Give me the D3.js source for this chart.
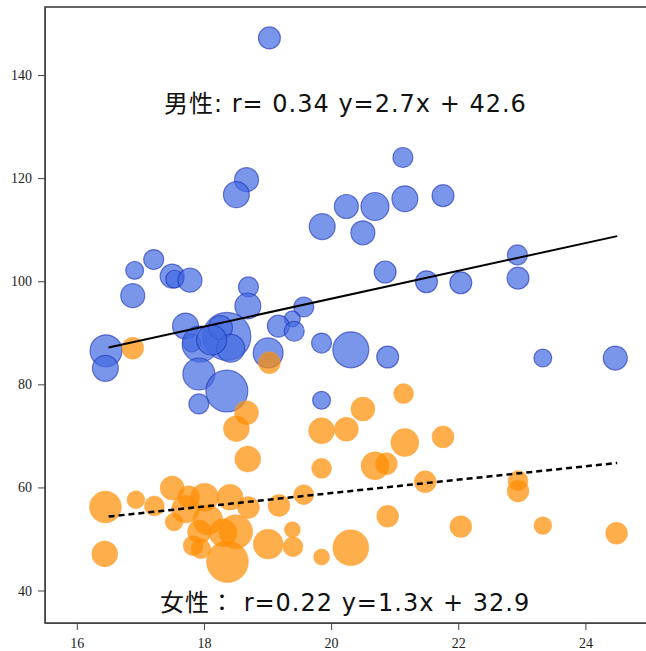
<!DOCTYPE html>
<html lang="ja">
<head>
<meta charset="utf-8">
<script src="https://d3js.org/d3.v7.min.js"></script>
<style>
  body { margin: 0; background: #fff; }
  .axis text { font-family: "Liberation Serif", serif; font-size: 14px; fill: #222; }
  .axis path, .axis line { stroke: #444; }
  .label { font-family: "DejaVu Sans", "Noto Sans CJK JP", sans-serif; font-size: 24px; letter-spacing: 1px; fill: #111; }
</style>
</head>
<body>
<div id="chart"></div>
<script>
// male group: x value, y value, bubble size
const maleX = [19.03, 18.67, 18.51, 19.86, 21.13, 21.16, 21.76, 20.24, 20.69, 20.50,
               20.85, 21.50, 22.04, 22.93, 22.94, 23.33, 24.47, 20.31, 20.89, 19.85,
               19.85, 16.91, 17.21, 16.88, 17.50, 17.54, 17.78, 18.70, 18.69, 19.57,
               19.39, 19.17, 19.42, 16.46, 16.45, 17.71, 17.81, 18.36, 17.94, 18.26,
               18.42, 17.92, 18.36, 17.92, 19.01, 18.12];
const maleY = [147.2, 119.7, 116.8, 110.6, 124.0, 116.0, 116.6, 114.5, 114.5, 109.4,
               101.8, 99.9, 99.7, 105.1, 100.6, 85.1, 85.1, 86.7, 85.3, 88.0,
               76.9, 102.1, 104.2, 97.2, 101.0, 100.4, 100.2, 98.9, 95.2, 95.0,
               92.7, 91.3, 90.3, 86.5, 83.1, 91.3, 88.0, 89.3, 87.8, 91.0,
               87.0, 82.0, 78.7, 76.2, 86.1, 88.6];
const maleS = [30, 36, 42, 42, 25, 42, 30, 36, 49, 36,
               30, 30, 30, 25, 30, 20, 36, 81, 30, 25,
               20, 20, 25, 36, 36, 20, 36, 25, 42, 25,
               16, 30, 25, 64, 42, 42, 20, 144, 81, 36,
               49, 64, 110, 25, 56, 56];

// female group
const femaleX = [16.88, 19.03, 18.67, 18.51, 18.69, 19.85, 20.24, 20.50, 21.14, 21.16,
                 21.76, 19.85, 20.69, 20.87, 21.48, 22.94, 22.94, 20.89, 22.04, 23.33,
                 24.49, 20.31, 19.85, 16.45, 16.44, 16.93, 17.22, 19.18, 19.57, 19.39,
                 19.40, 19.01, 17.50, 17.76, 18.01, 18.41, 18.70, 17.71, 17.53, 18.06,
                 18.30, 18.50, 17.83, 17.95, 18.37, 17.93];
const femaleY = [87.0, 84.2, 74.5, 71.4, 65.5, 71.0, 71.3, 75.2, 78.2, 68.7,
                 69.8, 63.7, 64.2, 64.6, 61.1, 61.3, 59.3, 54.4, 52.4, 52.6,
                 51.1, 48.3, 46.5, 56.2, 47.1, 57.6, 56.4, 56.5, 58.6, 51.8,
                 48.5, 49.0, 59.9, 58.2, 58.1, 58.1, 56.1, 55.8, 53.3, 53.7,
                 51.2, 51.4, 48.7, 48.1, 45.6, 51.4];
const femaleS = [30, 30, 36, 42, 42, 42, 36, 36, 25, 49,
                 30, 25, 49, 30, 30, 25, 30, 30, 30, 20,
                 30, 81, 16, 64, 42, 20, 25, 30, 25, 16,
                 25, 56, 36, 30, 49, 42, 30, 49, 20, 56,
                 49, 72, 25, 25, 110, 36];

const xTicks = [16, 18, 20, 22, 24];
const yTicks = [40, 60, 80, 100, 120, 140];

// regression lines: [slope, intercept], drawn between fitX
const fitX = [16.5, 24.5];
const maleFit = [2.7, 42.6];
const femaleFit = [1.3, 32.9];
const maleLabel = "男性: r= 0.34 y=2.7x + 42.6";
const femaleLabel = "女性： r=0.22 y=1.3x + 32.9";

const W = 646, H = 651;
const margin = {top: 7, right: -3, bottom: 28, left: 45};
const iw = W - margin.left - margin.right;
const ih = H - margin.top - margin.bottom;

const svg = d3.select("#chart").append("svg")
    .attr("width", W)
    .attr("height", H);

const g = svg.append("g")
    .attr("transform", "translate(" + margin.left + "," + margin.top + ")");

const x = d3.scaleLinear().domain([15.5, 25]).range([0, iw]);
const y = d3.scaleLinear().domain([33.7, 153.2]).range([ih, 0]);
const r = d3.scaleSqrt().domain([0, 100]).range([0, 20]);

// frame
g.append("rect")
    .attr("width", iw)
    .attr("height", ih)
    .attr("fill", "none")
    .attr("stroke", "#333")
    .attr("stroke-width", 1.5);

g.append("g")
    .attr("class", "axis")
    .attr("transform", "translate(0," + ih + ")")
    .call(d3.axisBottom(x).tickValues(xTicks).tickSize(7).tickPadding(8).tickSizeOuter(0));

g.append("g")
    .attr("class", "axis")
    .call(d3.axisLeft(y).tickValues(yTicks).tickSize(7).tickPadding(6).tickSizeOuter(0));

const males = maleX.map((d, i) => ({x: d, y: maleY[i], s: maleS[i]}));
const females = femaleX.map((d, i) => ({x: d, y: femaleY[i], s: femaleS[i]}));

g.append("g").selectAll("circle")
    .data(males)
    .join("circle")
    .attr("cx", d => x(d.x))
    .attr("cy", d => y(d.y))
    .attr("r", d => r(d.s))
    .attr("fill", "royalblue")
    .attr("fill-opacity", 0.7)
    .attr("stroke", "#1a2fb0")
    .attr("stroke-opacity", 0.6)
    .attr("stroke-width", 1.2);

g.append("g").selectAll("circle")
    .data(females)
    .join("circle")
    .attr("cx", d => x(d.x))
    .attr("cy", d => y(d.y))
    .attr("r", d => r(d.s))
    .attr("fill", "darkorange")
    .attr("fill-opacity", 0.7)
    .attr("stroke", "#ffa030")
    .attr("stroke-opacity", 0.4);

const line = fit => d3.line()
    .x(d => x(d))
    .y(d => y(fit[0] * d + fit[1]));

g.append("path")
    .datum(fitX)
    .attr("d", line(maleFit))
    .attr("fill", "none")
    .attr("stroke", "#000")
    .attr("stroke-width", 2);

g.append("path")
    .datum(fitX)
    .attr("d", line(femaleFit))
    .attr("fill", "none")
    .attr("stroke", "#000")
    .attr("stroke-width", 2.5)
    .attr("stroke-dasharray", "6,4");

svg.append("text")
    .attr("class", "label")
    .attr("x", 164)
    .attr("y", 112)
    .text(maleLabel);

svg.append("text")
    .attr("class", "label")
    .attr("x", 160)
    .attr("y", 611)
    .text(femaleLabel);
</script>
</body>
</html>
